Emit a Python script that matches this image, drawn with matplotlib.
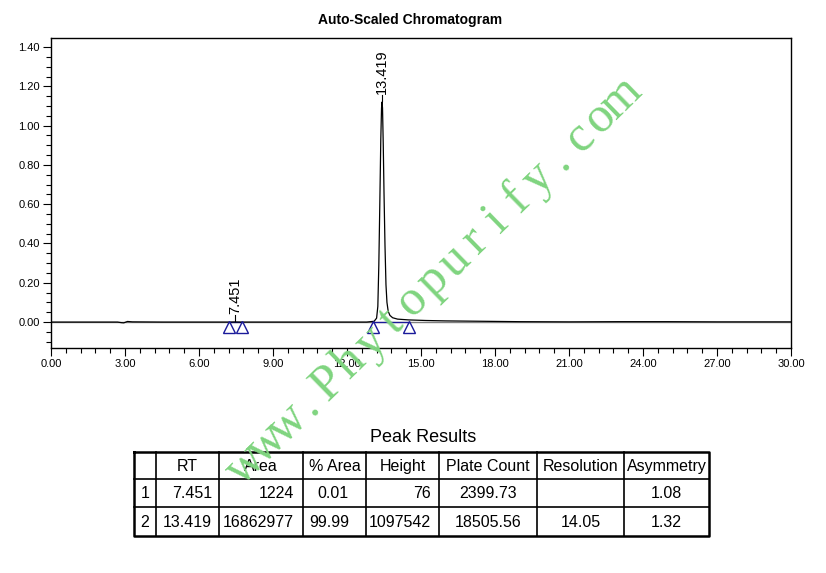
import math
import matplotlib
matplotlib.use("Agg")
import matplotlib.pyplot as plt
from matplotlib.ticker import MultipleLocator, FormatStrFormatter

plt.rcParams['font.family'] = ['Liberation Sans', 'DejaVu Sans']

time = [0.0, 1.5, 2.7, 2.85, 2.95, 3.1, 3.3, 4.5, 6.0, 7.2, 7.45, 7.7, 9.0, 11.0, 12.8,
        13.1, 13.2, 13.25, 13.29, 13.33, 13.37, 13.40, 13.419, 13.44, 13.47, 13.50,
        13.54, 13.58, 13.62, 13.67, 13.74, 13.85, 14.05, 14.5, 15.2, 16.0, 17.5, 19.0,
        21.0, 23.0, 25.0, 27.0, 30.0]
signal = [0.0, 0.0, 0.0, -0.003, -0.004, 0.003, 0.001, 0.0, 0.0, 0.0, 0.0005, 0.0, 0.0,
          0.0, 0.0, 0.004, 0.02, 0.08, 0.29, 0.60, 0.93, 1.09, 1.12, 1.09, 0.90, 0.66,
          0.39, 0.19, 0.10, 0.055, 0.034, 0.022, 0.015, 0.011, 0.008, 0.006, 0.004,
          0.002, 0.001, 0.002, 0.002, 0.001, 0.001]

# Пики
peak_rt = [7.451, 13.419]
peak_top = [0.0005, 1.12]
peak_start = [7.23, 13.07]
peak_end = [7.73, 14.51]

# Таблица результатов
columns = ["", "RT", "Area", "% Area", "Height", "Plate Count", "Resolution", "Asymmetry"]
row_num = ["1", "2"]
rt_col = ["7.451", "13.419"]
area_col = ["1224", "16862977"]
pct_area_col = ["0.01", "99.99"]
height_col = ["76", "1097542"]
plate_col = ["2399.73", "18505.56"]
resolution_col = ["", "14.05"]
asym_col = ["1.08", "1.32"]

watermark = "www.Phytopurify.com"

W, H = 826, 573
fig = plt.figure(figsize=(W / 100, H / 100), dpi=100)


def fx(px):
    return px / W


def fy(py):
    return 1 - py / H


ax = fig.add_axes([fx(51), fy(348), fx(791) - fx(51), fy(38) - fy(348)])
ax.axhline(0, color='#808080', lw=1.0, zorder=1)
ax.plot(time, signal, color='black', lw=0.9, zorder=2)

# базовые линии и маркеры начала/конца пиков
for i in range(len(peak_rt)):
    ax.plot([peak_start[i], peak_end[i]], [0.002, 0.002], color='#1a1a9a', lw=0.9, zorder=1.5)
    ax.plot([peak_start[i], peak_end[i]], [-0.026, -0.026], linestyle='none', marker='^',
            ms=8, mfc='none', mec='#1a1a9a', mew=1.0, zorder=3)
    ytxt = peak_top[i] + 0.03
    ax.plot([peak_rt[i], peak_rt[i]], [peak_top[i] + 0.005, ytxt + 0.005], color='black', lw=0.8)
    ax.text(peak_rt[i], ytxt + 0.01, "%.3f" % peak_rt[i], rotation=90, ha='center', va='bottom',
            fontsize=10.5)

ax.set_xlim(0, 30)
ax.set_ylim(-0.132, 1.446)
ax.xaxis.set_major_locator(MultipleLocator(3))
ax.xaxis.set_minor_locator(MultipleLocator(0.6))
ax.yaxis.set_major_locator(MultipleLocator(0.2))
ax.yaxis.set_minor_locator(MultipleLocator(0.05))
ax.xaxis.set_major_formatter(FormatStrFormatter('%.2f'))
ax.yaxis.set_major_formatter(FormatStrFormatter('%.2f'))
ax.tick_params(which='major', direction='out', length=6, width=0.8, labelsize=8, pad=2)
ax.tick_params(which='minor', direction='out', length=3.5, width=0.8)
for s in ax.spines.values():
    s.set_linewidth(1.0)

fig.text(fx(410), fy(20), "Auto-Scaled Chromatogram", ha='center', va='center',
         fontsize=10, fontweight='bold')

# Таблица
fig.text(fx(423), fy(438), "Peak Results", ha='center', va='center', fontsize=13)
tab = fig.add_axes([0, 0, 1, 1])
tab.set_xlim(0, W)
tab.set_ylim(H, 0)
tab.axis('off')
col_edges = [134, 156, 219, 303, 366, 439, 537, 624, 709]
row_edges = [452, 479, 507, 536]
for x in col_edges[1:-1]:
    tab.plot([x, x], [row_edges[0], row_edges[-1]], color='black', lw=1.2)
for y in row_edges[1:-1]:
    tab.plot([col_edges[0], col_edges[-1]], [y, y], color='black', lw=1.2)
tab.plot([col_edges[0], col_edges[-1], col_edges[-1], col_edges[0], col_edges[0]],
         [row_edges[0], row_edges[0], row_edges[-1], row_edges[-1], row_edges[0]],
         color='black', lw=1.8)

table_rows = list(zip(row_num, rt_col, area_col, pct_area_col, height_col,
                      plate_col, resolution_col, asym_col))
align = ['center', 'right', 'right', 'right', 'right', 'center', 'center', 'center']
pads = [0, 7, 9, 17, 8, 0, 0, 0]
fs = 11.5
for j, name in enumerate(columns):
    cx = (col_edges[j] + col_edges[j + 1]) / 2
    tab.text(cx, (row_edges[0] + row_edges[1]) / 2 + 1, name, ha='center', va='center', fontsize=fs)
for i, row in enumerate(table_rows):
    cy = (row_edges[i + 1] + row_edges[i + 2]) / 2 + 1
    for j, val in enumerate(row):
        if align[j] == 'right':
            tab.text(col_edges[j + 1] - pads[j], cy, val, ha='right', va='center', fontsize=fs)
        else:
            tab.text((col_edges[j] + col_edges[j + 1]) / 2, cy, val, ha='center', va='center',
                     fontsize=fs)

# Водяной знак: буквы с засечками, расставленные с равным шагом вдоль диагонали
angle = 44.3
dx, dy = math.cos(math.radians(angle)), -math.sin(math.radians(angle))
step = 29.2
x0, y0 = 245.5 + 8.4, 464.8 + 8.6
for k, ch in enumerate(watermark):
    tab.text(x0 + k * step * dx, y0 + k * step * dy, ch, rotation=angle, ha='center',
             va='baseline', rotation_mode='anchor', fontsize=36, color='#7fd47f',
             family='Liberation Serif', zorder=10)

fig.savefig("out.png", dpi=100)
